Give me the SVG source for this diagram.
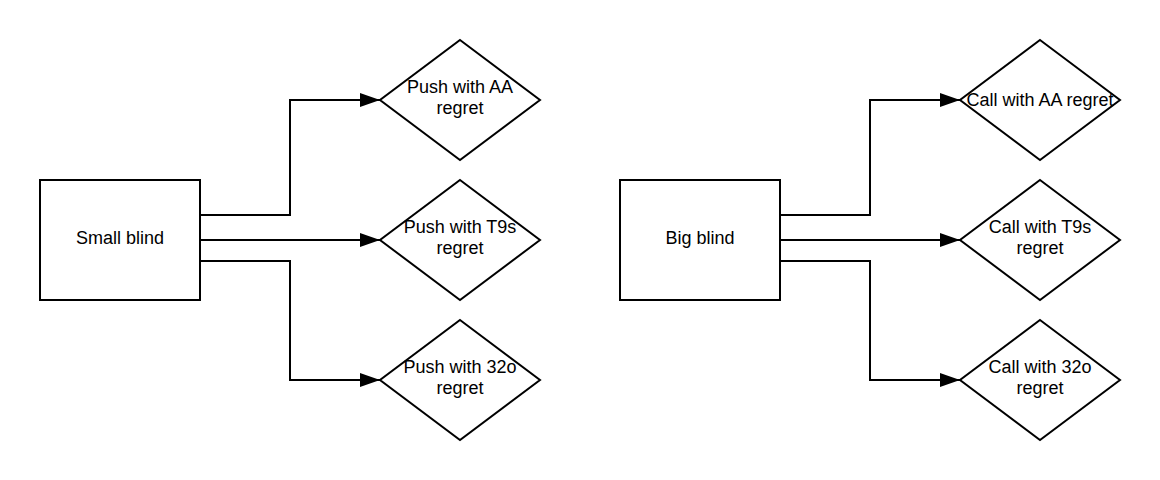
<svg xmlns="http://www.w3.org/2000/svg" width="1160" height="480" viewBox="0 0 1160 480">
<style>
.n{fill:#fff;stroke:#000;stroke-width:2}
.c{fill:none;stroke:#000;stroke-width:2;marker-end:url(#ah)}
text{font-family:"Liberation Sans",Arial,sans-serif;font-size:18px;fill:#000;text-anchor:middle}
</style>
<defs>
<marker id="ah" markerUnits="userSpaceOnUse" markerWidth="22" markerHeight="14" refX="20" refY="7" orient="auto">
<path d="M0,0 L20,7 L0,14 Z" fill="#000"/>
</marker>
</defs>
<rect width="1160" height="480" fill="#fff"/>
<g id="connectors">
<path class="c" d="M200,215 H290 V100 H380"/>
<path class="c" d="M200,240 H380"/>
<path class="c" d="M200,261 H290 V380 H380"/>
<path class="c" d="M780,215 H870 V100 H960"/>
<path class="c" d="M780,240 H960"/>
<path class="c" d="M780,261 H870 V380 H960"/>
</g>
<g id="small-blind"><rect class="n" x="40" y="180" width="160" height="120"/><text x="120" y="244">Small blind</text></g>
<g id="push-aa"><path class="n" d="M460,40 L540,100 L460,160 L380,100 Z"/><text x="460" y="93">Push with AA</text><text x="460" y="114">regret</text></g>
<g id="push-t9s"><path class="n" d="M460,180 L540,240 L460,300 L380,240 Z"/><text x="460" y="233">Push with T9s</text><text x="460" y="254">regret</text></g>
<g id="push-32o"><path class="n" d="M460,320 L540,380 L460,440 L380,380 Z"/><text x="460" y="373">Push with 32o</text><text x="460" y="394">regret</text></g>
<g id="big-blind"><rect class="n" x="620" y="180" width="160" height="120"/><text x="700" y="244">Big blind</text></g>
<g id="call-aa"><path class="n" d="M1040,40 L1120,100 L1040,160 L960,100 Z"/><text x="1040" y="106">Call with AA regret</text></g>
<g id="call-t9s"><path class="n" d="M1040,180 L1120,240 L1040,300 L960,240 Z"/><text x="1040" y="233">Call with T9s</text><text x="1040" y="254">regret</text></g>
<g id="call-32o"><path class="n" d="M1040,320 L1120,380 L1040,440 L960,380 Z"/><text x="1040" y="373">Call with 32o</text><text x="1040" y="394">regret</text></g>
</svg>
